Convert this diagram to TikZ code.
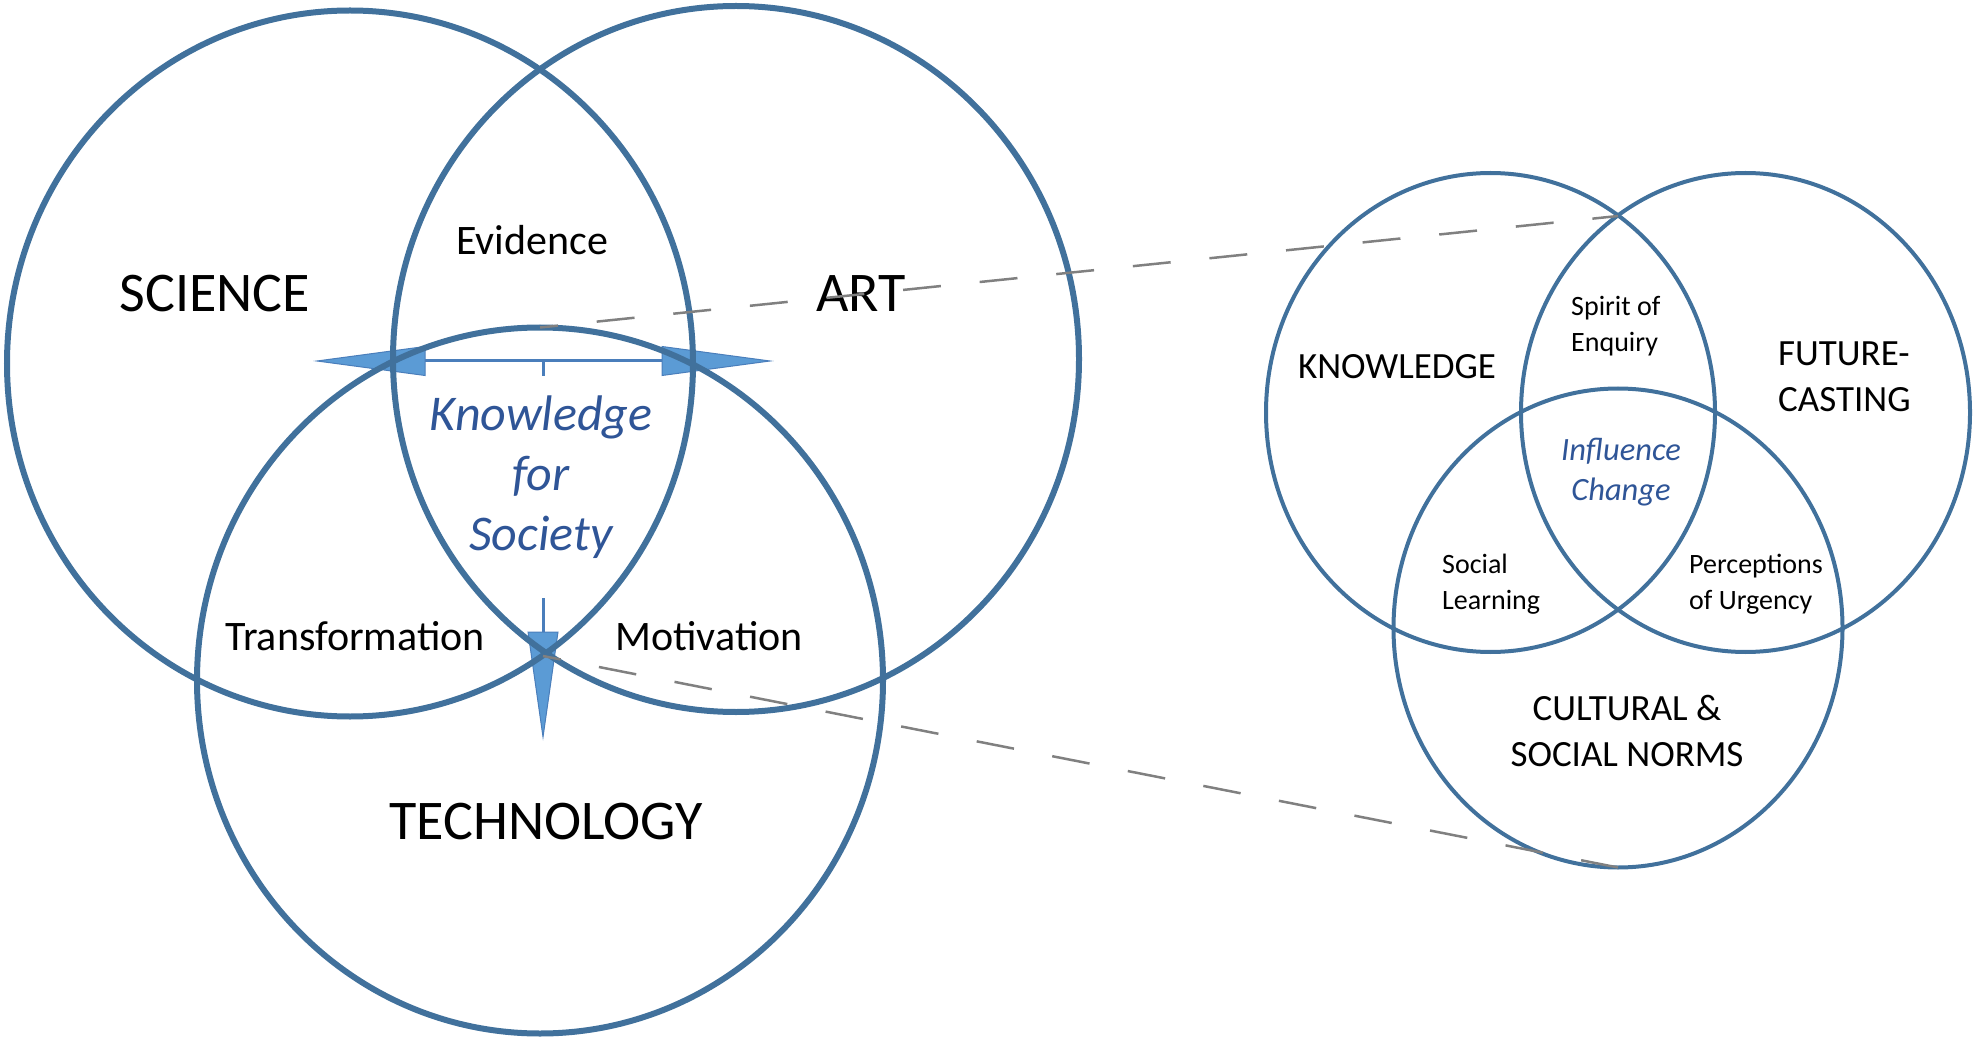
\documentclass[tikz,border=0pt]{standalone}
\usepackage{fontspec}
\setmainfont{Carlito}
\usetikzlibrary{shapes.geometric}
\definecolor{circblue}{RGB}{65,113,156}
\definecolor{arrowfill}{RGB}{91,155,213}
\definecolor{arrowline}{RGB}{74,126,187}
\definecolor{kblue}{RGB}{47,85,151}
\definecolor{dashgray}{RGB}{128,128,128}
\begin{document}
\begin{tikzpicture}[x=1pt,y=-1pt,
  bigcirc/.style={ellipse, draw=circblue, line width=6pt, minimum width=686pt, minimum height=706pt, inner sep=0pt, outer sep=0pt},
  smallcirc/.style={ellipse, draw=circblue, line width=4pt, minimum width=449pt, minimum height=479pt, inner sep=0pt, outer sep=0pt},
  biglabel/.style={font=\fontsize{56}{67}\selectfont, anchor=base, inner sep=0pt},
  midlabel/.style={font=\fontsize{42}{50}\selectfont, anchor=base, inner sep=0pt},
  centrelabel/.style={font=\fontsize{50}{60}\selectfont\itshape, text=kblue, anchor=base, inner sep=0pt, align=center},
  smallcap/.style={font=\fontsize{37}{46}\selectfont, inner sep=0pt},
  smalltext/.style={font=\fontsize{28}{36.5}\selectfont, inner sep=0pt},
  smallcentre/.style={font=\fontsize{32.5}{40}\selectfont\itshape, text=kblue, inner sep=0pt, align=center, anchor=base},
  dashlink/.style={draw=dashgray, line width=2.5pt, dash pattern=on 38pt off 39pt, dash phase=20pt},
  arrowhead/.style={fill=arrowfill, draw=arrowline, line width=1pt, line join=miter},
  arrowshaft/.style={draw=arrowline, line width=3pt}
]
\useasboundingbox (0,0) rectangle (1976,1040);

% three-way arrow
\coordinate (hub) at (543,361);
\coordinate (ltip) at (317,361);
\coordinate (rtip) at (770,361);
\coordinate (dtip) at (543,737);
\draw[arrowshaft] (425,361) -- (662,361);
\draw[arrowshaft] (hub) -- (543,376);
\draw[arrowshaft] (543,598) -- (543,632);
\filldraw[arrowhead] (ltip) -- (425,346.5) -- (425,375.5) -- cycle;
\filldraw[arrowhead] (rtip) -- (662,346.5) -- (662,375.5) -- cycle;
\filldraw[arrowhead] (dtip) -- (528,632) -- (558,632) -- cycle;

% big circles
\node[bigcirc] (sci) at (350,363.5) {};
\node[bigcirc] (art) at (736,359) {};
\node[bigcirc] (tech) at (540,680.5) {};

% small circles
\node[smallcirc] (know) at (1490.5,412.5) {};
\node[smallcirc] (fut) at (1745.5,412.5) {};
\node[smallcirc] (cul) at (1618,628) {};

% link points
\coordinate (sciartlow) at (543,656);
\coordinate (knowfut) at (1618,216);

% labels big diagram
\node[biglabel] (lsci) at (215,312) {SCIENCE};
\node[biglabel] (lart) at (861,312) {ART};
\node[biglabel] (ltech) at (546,839) {TECHNOLOGY};
\node[midlabel] (lev) at (532,255) {Evidence};
\node[midlabel] (ltrans) at (355,650) {Transformation};
\node[midlabel] (lmot) at (709,650) {Motivation};
\node[centrelabel] (lkfs) at (541,550) {Knowledge\\for\\Society};

% labels small diagram
\node[smallcap, anchor=base] (lknow) at (1397,379) {KNOWLEDGE};
\node[smallcap, anchor=base west, align=left] (lfut) at (1778,411) {FUTURE-\\CASTING};
\node[smallcap, anchor=base, align=center] (lcul) at (1627,766) {CULTURAL \&\\SOCIAL NORMS};
\node[smalltext, anchor=base west, align=left] (lspirit) at (1571,352) {Spirit of\\Enquiry};
\node[smalltext, anchor=base west, align=left] (lsocial) at (1442,609.5) {Social\\Learning};
\node[smalltext, anchor=base west, align=left] (lperc) at (1689,609.5) {Perceptions\\of Urgency};
\node[smallcentre] (linf) at (1621,500.5) {Influence\\Change};

% dashed links
\draw[dashlink] (tech.north) -- (knowfut);
\draw[dashlink] (sciartlow) -- (cul.south);
\end{tikzpicture}
\end{document}
